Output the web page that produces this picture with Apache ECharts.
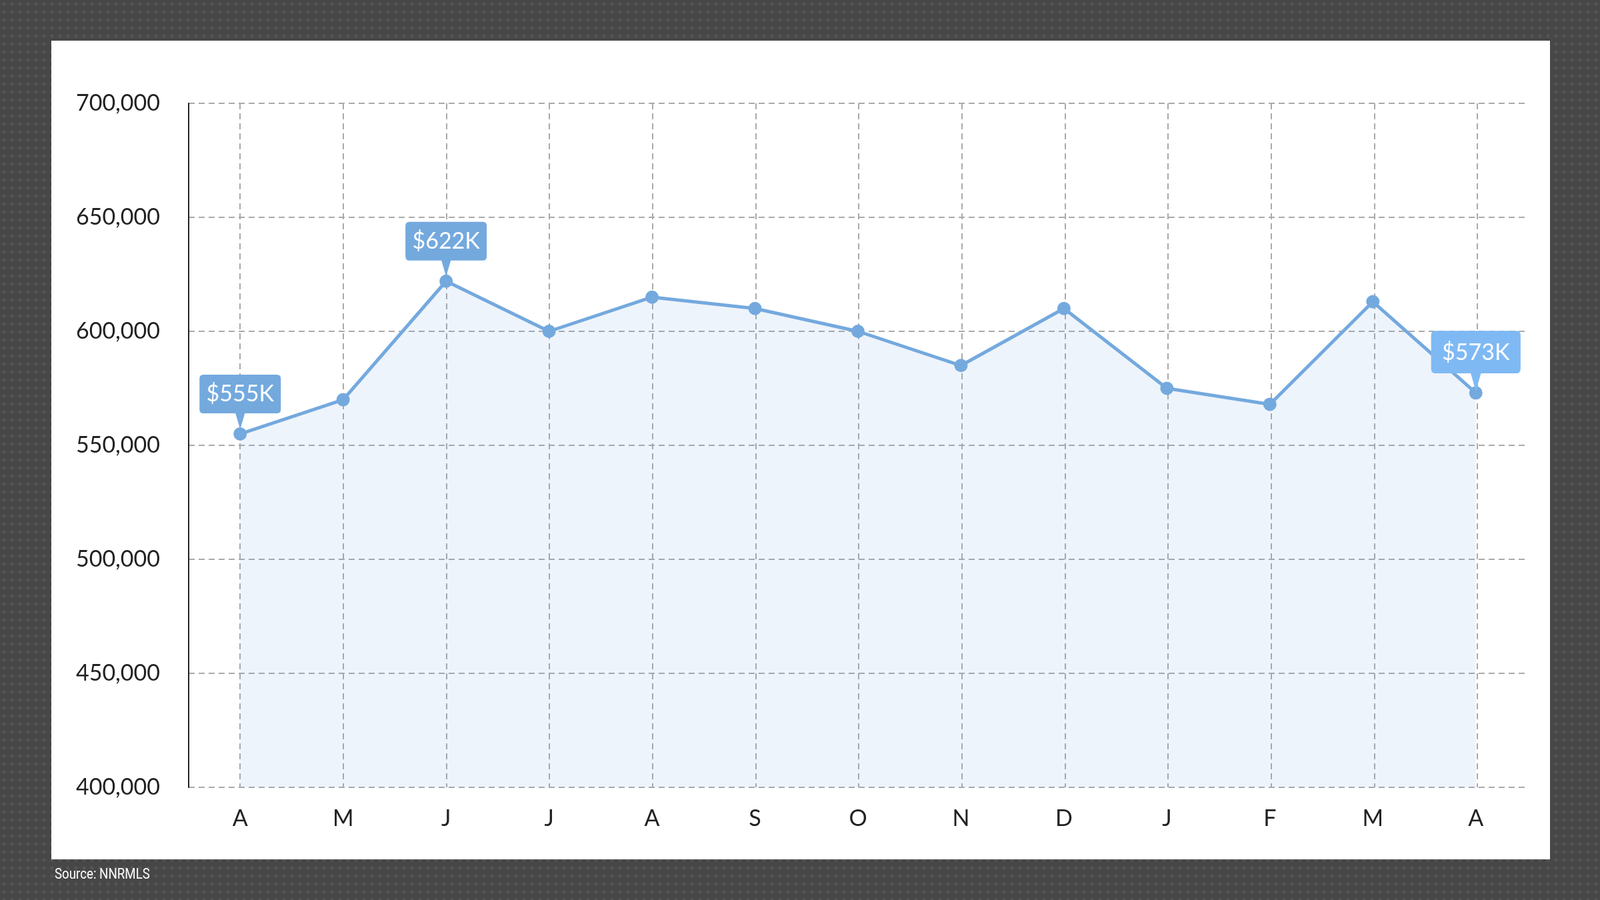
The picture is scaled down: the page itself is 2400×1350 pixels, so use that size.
<!DOCTYPE html>
<html><head><meta charset="utf-8">
<script src="https://cdn.jsdelivr.net/npm/echarts@6/dist/echarts.min.js"></script>
<style>html,body{margin:0;padding:0;background:#474747;}
#bg{position:absolute;left:0;top:0;width:2400px;height:1350px;background-color:#474747;background-image:radial-gradient(circle at 50% 50%, #555 2px, transparent 3px);background-size:12px 12px;}
#panel{position:absolute;left:77px;top:61px;width:2248px;height:1228px;background:#fff;}
#c{position:absolute;left:0;top:0;width:2400px;height:1350px;}
#src{position:absolute;left:82px;top:1298px;color:#fff;font-family:Roboto,sans-serif;font-size:22px;transform:scaleX(0.85);transform-origin:left;}
</style></head>
<body><div id="bg"></div><div id="panel"></div><div id="c"></div><div id="src">Source: NNRMLS</div>
<script>
const categories=['A','M','J','J','A','S','O','N','D','J','F','M','A'];
const values=[555000,570000,622000,600000,615000,610000,600000,585000,610000,575000,568000,613000,573000];
const callouts=[{i:0,t:'$555K'},{i:2,t:'$622K'},{i:12,t:'$573K'}];
const blue='#74a9de';
const chart=echarts.init(document.getElementById('c'));
const dashed={show:true,lineStyle:{color:'#aaa',type:[9,6],width:2}};
chart.setOption({
 grid:[{left:283,right:109,top:155,bottom:169},{left:360,right:184,top:155,bottom:169}],
 xAxis:[{type:'category',data:categories,boundaryGap:true,gridIndex:0,axisLine:{show:false},axisTick:{show:false},
   axisLabel:{fontFamily:'Lato',fontSize:34,color:'#222',margin:30},splitLine:{show:false}},
  {type:'category',data:categories,boundaryGap:false,gridIndex:1,axisLine:{show:false},axisTick:{show:false},axisLabel:{show:false},splitLine:dashed}],
 yAxis:[{type:'value',min:400000,max:700000,interval:50000,gridIndex:0,axisLine:{show:true,lineStyle:{color:'#222',width:2}},axisTick:{show:false},
   axisLabel:{fontFamily:'Lato',fontSize:34,color:'#222',margin:43},splitLine:dashed},
  {type:'value',min:400000,max:700000,gridIndex:1,show:false}],
 series:[{type:'line',data:values,xAxisIndex:0,yAxisIndex:0,symbol:'circle',symbolSize:20,
   itemStyle:{color:blue},lineStyle:{color:blue,width:5},areaStyle:{color:'rgba(116,169,222,0.18)'},
   markPoint:{symbol:'path://M6,0 H116 Q122,0 122,6 V52 Q122,58 116,58 H68 L61,82 L54,58 H6 Q0,58 0,52 V6 Q0,0 6,0 Z',
    symbolSize:[122,82],symbolOffset:[0,-48],itemStyle:{color:blue},
    label:{show:true,color:'#fff',fontFamily:'Lato',fontSize:34,offset:[0,-12]},
    data:callouts.map(c=>({coord:[c.i,values[c.i]],value:c.t}))}}]
});
</script></body></html>
